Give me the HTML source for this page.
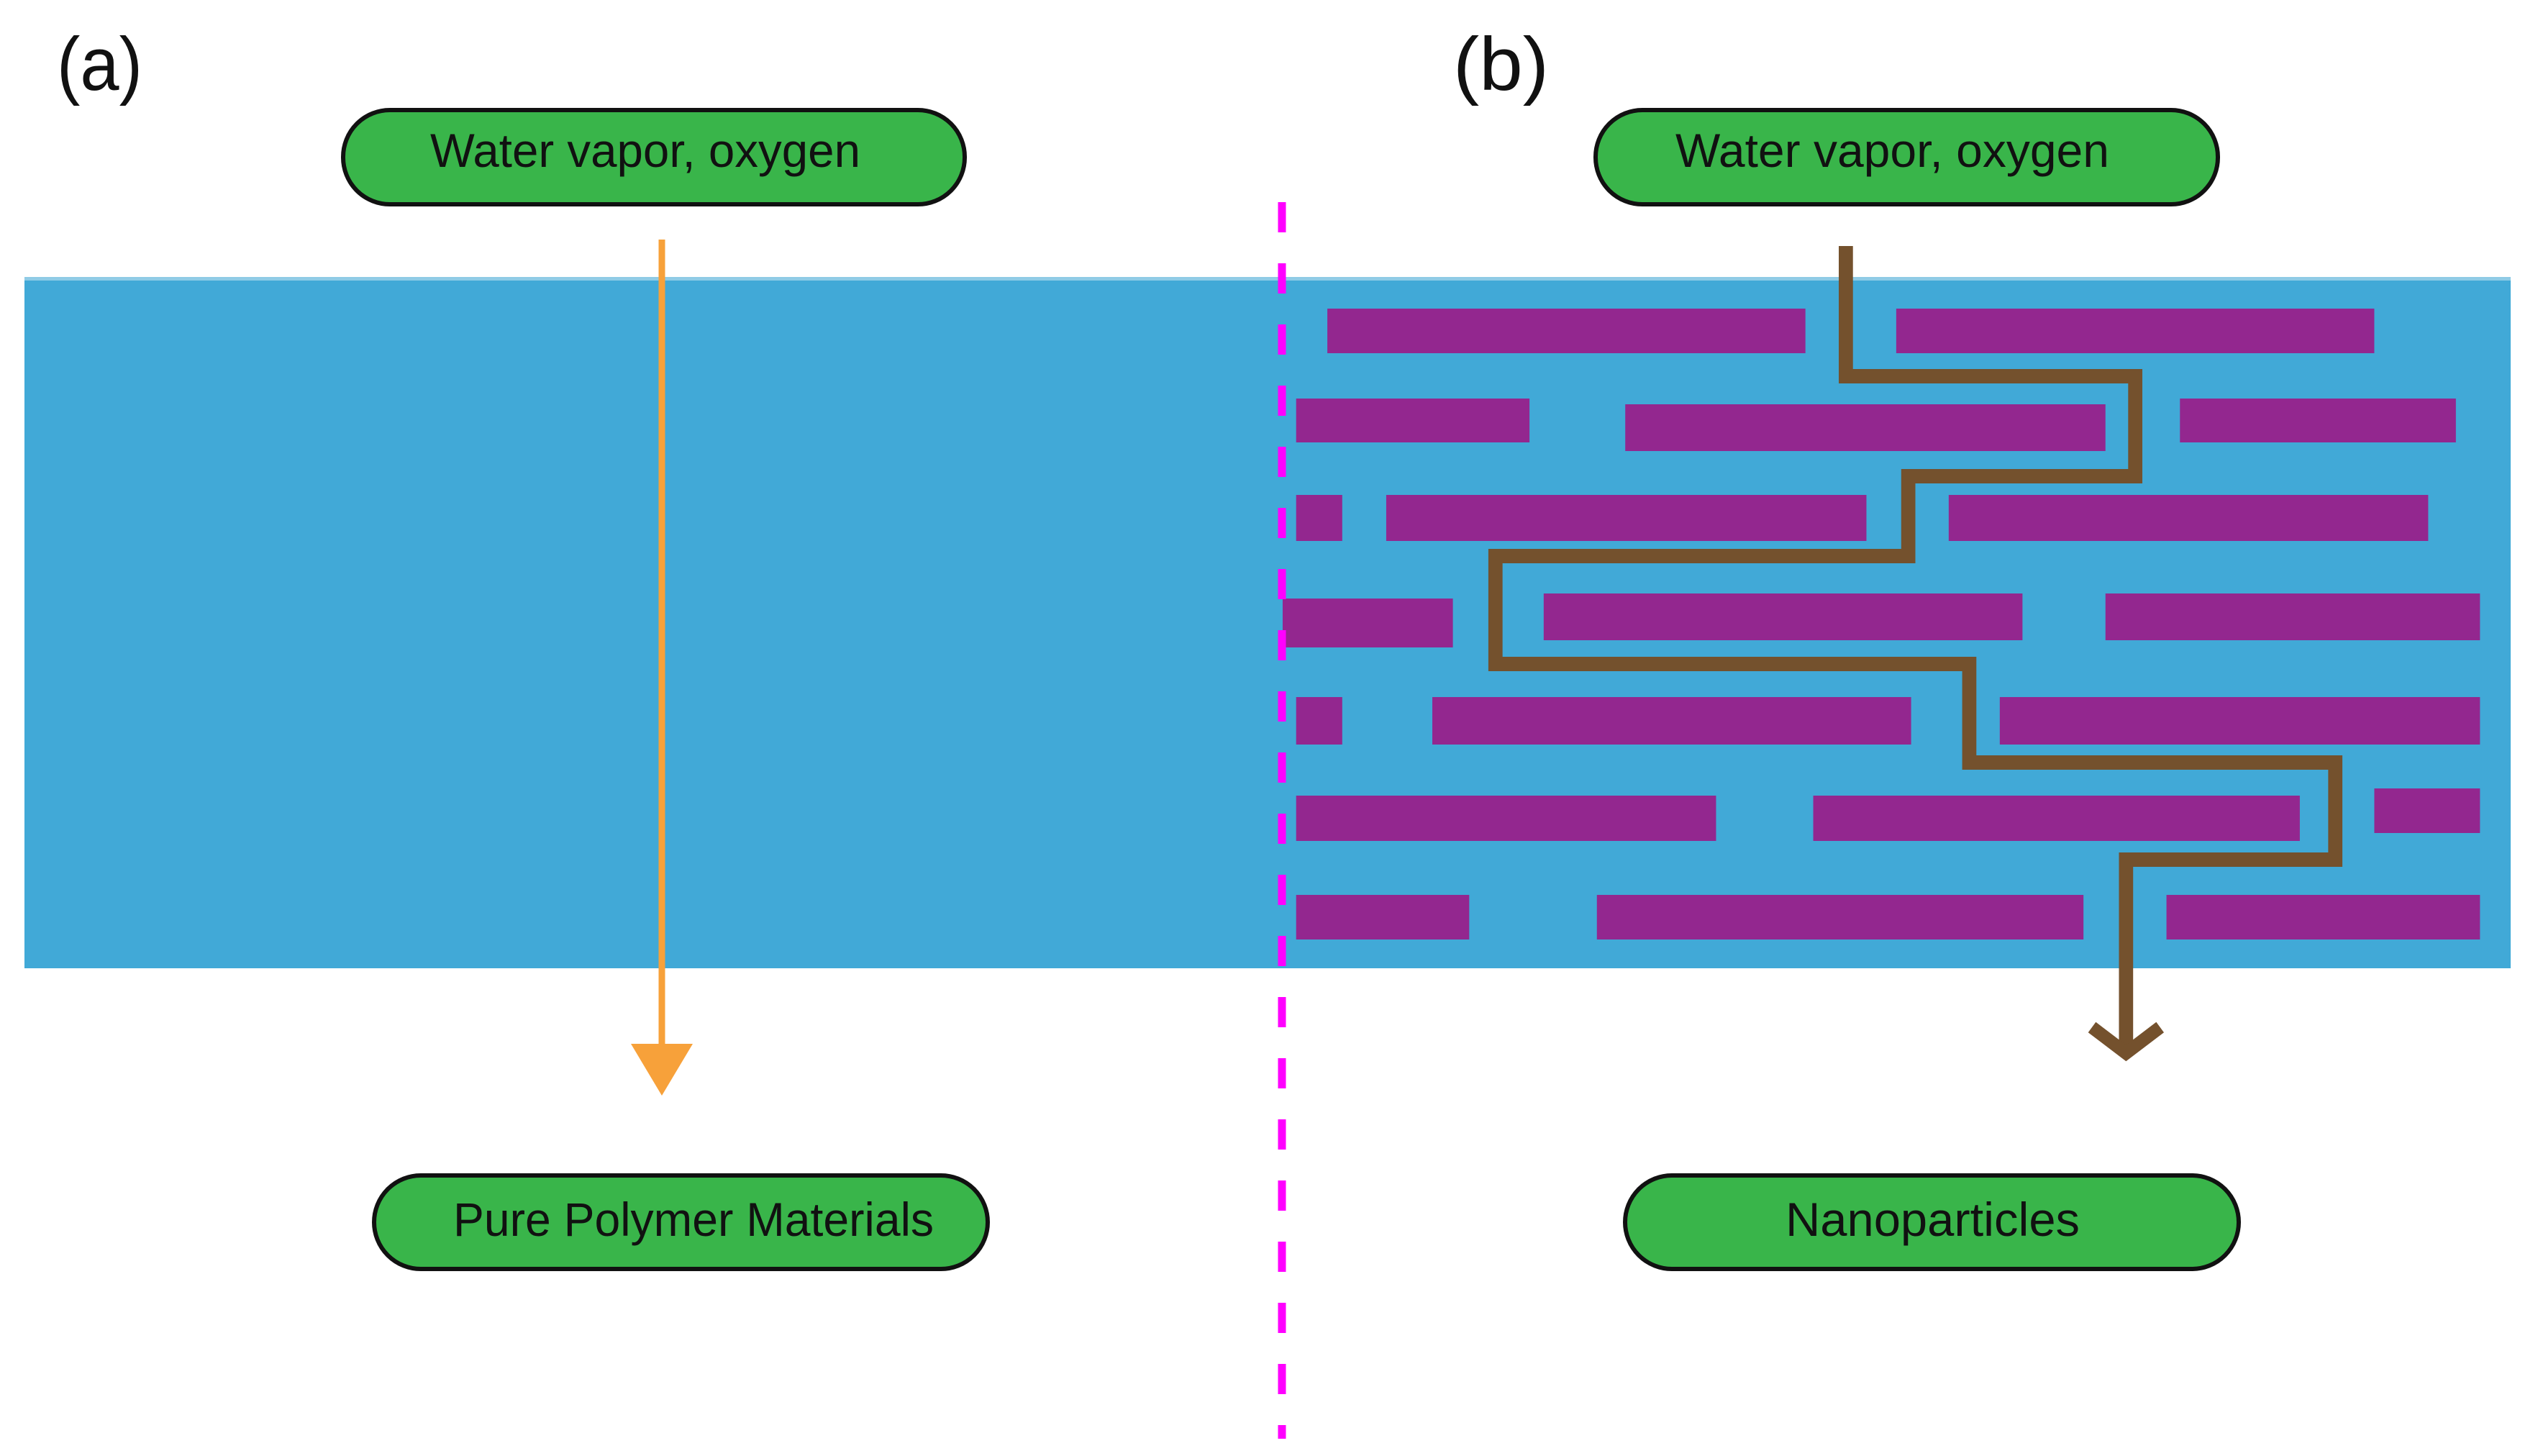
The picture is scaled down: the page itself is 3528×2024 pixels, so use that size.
<!DOCTYPE html>
<html><head><meta charset="utf-8"><style>html,body{margin:0;padding:0;background:#fff}svg{display:block}</style></head>
<body>
<svg width="3528" height="2024" viewBox="0 0 3528 2024" xmlns="http://www.w3.org/2000/svg" font-family="Liberation Sans, sans-serif">
<rect x="34" y="385" width="3456" height="961" fill="#41a9d7"/>
<rect x="34" y="385" width="3456" height="5" fill="#8fcbe6"/>
<g transform="translate(1782,0) scale(0.986,1) translate(-1782,0)">
<g fill="#93278f">
<rect x="1846" y="429" width="674" height="62"/><rect x="2648" y="429" width="674" height="62"/>
<rect x="1802" y="554" width="329" height="61"/><rect x="2266" y="562" width="677" height="65"/><rect x="3048" y="554" width="389" height="61"/>
<rect x="1802" y="688" width="65" height="64"/><rect x="1929" y="688" width="677" height="64"/><rect x="2722" y="688" width="676" height="64"/>
<rect x="1783" y="832" width="240" height="68"/><rect x="2151" y="825" width="675" height="65"/><rect x="2943" y="825" width="528" height="65"/>
<rect x="1802" y="969" width="65" height="66"/><rect x="1994" y="969" width="675" height="66"/><rect x="2794" y="969" width="677" height="66"/>
<rect x="1802" y="1106" width="592" height="63"/><rect x="2531" y="1106" width="686" height="63"/><rect x="3322" y="1096" width="149" height="62"/>
<rect x="1802" y="1244" width="244" height="62"/><rect x="2226" y="1244" width="686" height="62"/><rect x="3029" y="1244" width="442" height="62"/>
</g>
<polyline points="2577,342 2577,523 2985,523 2985,662 2665,662 2665,773 2083,773 2083,923 2751,923 2751,1060 3267,1060 3267,1195 2972,1195 2972,1460" fill="none" stroke="#74512d" stroke-width="20"/>
<polyline points="2924,1428 2972,1464 3020,1428" fill="none" stroke="#74512d" stroke-width="18"/>
</g>
<line x1="1782" y1="281" x2="1782" y2="2000" stroke="#ff00ff" stroke-width="11" stroke-dasharray="42 43"/>
<line x1="920" y1="333" x2="920" y2="1460" stroke="#f7a13a" stroke-width="9"/>
<polygon points="877,1451 963,1451 920,1523" fill="#f7a13a"/>
<g fill="#39b54a" stroke="#111" stroke-width="6">
<rect x="477" y="153" width="864" height="131" rx="65"/>
<rect x="2218" y="153" width="865" height="131" rx="65"/>
<rect x="520" y="1634" width="853" height="130" rx="65"/>
<rect x="2259" y="1634" width="853" height="130" rx="65"/>
</g>
<g fill="#111" font-size="66">
<text x="598" y="232" textLength="598" lengthAdjust="spacingAndGlyphs">Water vapor, oxygen</text>
<text x="2329" y="232" textLength="603" lengthAdjust="spacingAndGlyphs">Water vapor, oxygen</text>
<text x="630" y="1718" textLength="668" lengthAdjust="spacingAndGlyphs">Pure Polymer Materials</text>
<text x="2482" y="1718" textLength="409" lengthAdjust="spacingAndGlyphs">Nanoparticles</text>
</g>
<g fill="#111" font-size="105">
<text x="79" y="125" textLength="119" lengthAdjust="spacingAndGlyphs">(a)</text>
<text x="2020" y="125" textLength="133" lengthAdjust="spacingAndGlyphs">(b)</text>
</g>
</svg>
</body></html>
